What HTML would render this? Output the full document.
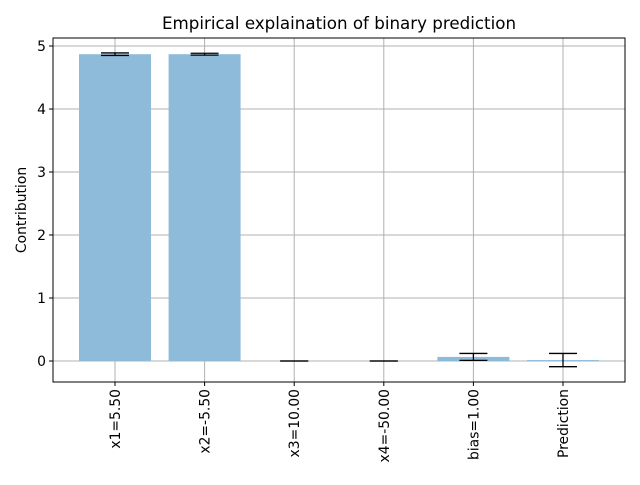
<!DOCTYPE html>
<html><head><meta charset="utf-8"><style>
body{margin:0;background:#fff;}
svg text{font-family:"DejaVu Sans","Liberation Sans",sans-serif;}
</style></head><body>
<svg id="chart" width="640" height="480" xmlns="http://www.w3.org/2000/svg">
<rect width="640" height="480" fill="#fff"/>
<text x="339" y="29" font-size="16.7" text-anchor="middle">Empirical explaination of binary prediction</text>
<text transform="translate(26,210) rotate(-90)" font-size="13.9" text-anchor="middle">Contribution</text>
<g id="grid"></g><g id="bars"></g><g id="errs"></g><g id="axes"></g>
</svg>
<script>
const categories=["x1=5.50","x2=-5.50","x3=10.00","x4=-50.00","bias=1.00","Prediction"];
const values=[4.87,4.87,0.0,0.0,0.065,0.015];
const errors=[0.02,0.015,0.0,0.0,0.055,0.105];
const yTicks=[0,1,2,3,4,5];
const L=53,R=625,T=38,B=382;
function yS(v){return 361-v*63;}
function xS(i){return 115+i*89.6;}
const NS="http://www.w3.org/2000/svg";
function mk(tag,attrs,parent){const e=document.createElementNS(NS,tag);for(const k in attrs)e.setAttribute(k,attrs[k]);document.getElementById(parent).appendChild(e);return e;}
yTicks.forEach(t=>{
 const g=mk('line',{x1:L,x2:R,y1:yS(t),y2:yS(t),stroke:'#b0b0b0','stroke-width':1},'grid');
 
 
 mk('line',{x1:L-4,x2:L,y1:yS(t),y2:yS(t),stroke:'#000'},'axes');
 const tx=mk('text',{x:L-7,y:yS(t)+5,'font-size':13.9,'text-anchor':'end'},'axes');
 tx.textContent=t;
 
 
});
categories.forEach((c,i)=>{
 const x=xS(i);
 const g=mk('line',{x1:x,x2:x,y1:T,y2:B,stroke:'#b0b0b0','stroke-width':1},'grid');
 
 
 const v=values[i];
 const b=mk('rect',{x:x-36,width:72,y:Math.min(yS(v),yS(0)),height:Math.abs(yS(v)-yS(0)),fill:'#8fbbdb'},'bars');
 
 
 const e=errors[i],y1=yS(v+e),y2=yS(v-e);
 const eg=mk('g',{stroke:'#000','stroke-width':1.3},'errs');
 
 
 [[x,x,y1,y2],[x-14,x+14,y1,y1],[x-14,x+14,y2,y2]].forEach(a=>{const l=document.createElementNS(NS,'line');l.setAttribute('x1',a[0]);l.setAttribute('x2',a[1]);l.setAttribute('y1',a[2]);l.setAttribute('y2',a[3]);eg.appendChild(l);});
 mk('line',{x1:x,x2:x,y1:B,y2:B+4,stroke:'#000'},'axes');
 const tx=mk('text',{'font-size':13.9,'text-anchor':'end',transform:`translate(${x+5},${B+7}) rotate(-90)`},'axes');
 tx.textContent=c;
 
 
});
const fr=mk('rect',{x:L,y:T,width:R-L,height:B-T,fill:'none',stroke:'#000','stroke-width':1},'axes');


</script>
</body></html>
